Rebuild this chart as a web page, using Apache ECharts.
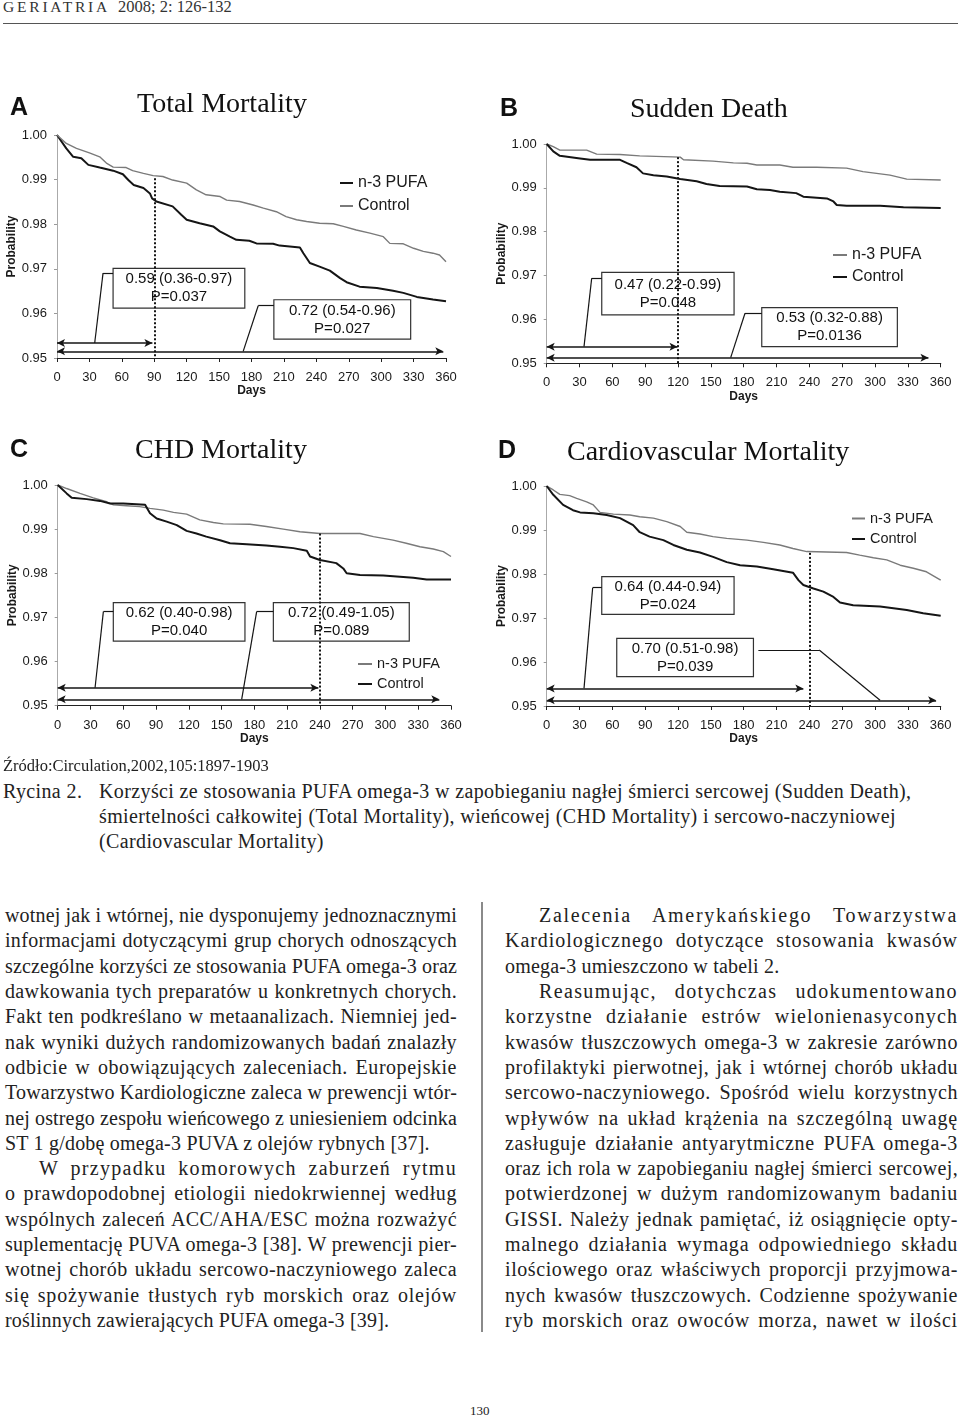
<!DOCTYPE html>
<html><head><meta charset="utf-8">
<script src="https://cdn.jsdelivr.net/npm/echarts@6/dist/echarts.min.js"></script>
<style>
html,body{margin:0;padding:0;background:#fff;}
body{width:960px;height:1418px;position:relative;overflow:hidden;font-family:"Liberation Serif",serif;color:#222;}
#chart{position:absolute;left:0;top:0;width:960px;height:760px;}
.abs{position:absolute;white-space:nowrap;}
.col{position:absolute;top:903.2px;font-size:20px;line-height:25.3px;}
.col div{white-space:nowrap;height:25.3px;letter-spacing:0.2px;}
.col div.ind{padding-left:34px;}
.cap{font-size:20px;line-height:25px;letter-spacing:0.38px;}
</style></head>
<body>
<div class="abs" style="left:3px;top:-1px;font-size:15.5px;letter-spacing:2.8px;line-height:16px;color:#333">GERIATRIA</div>
<div class="abs" style="left:118px;top:-1px;font-size:16.5px;line-height:16px;color:#333">2008; 2: 126-132</div>
<div class="abs" style="left:3px;top:22.5px;width:955px;height:1.5px;background:#555"></div>
<div id="chart"></div>
<div class="abs" style="left:3px;top:756px;font-size:16.5px;line-height:20px;">Źródło:Circulation,2002,105:1897-1903</div>
<div class="abs cap" style="left:3px;top:779.4px">Rycina 2.</div>
<div class="abs cap" style="left:99px;top:779.4px">Korzyści ze stosowania PUFA omega-3 w zapobieganiu nagłej śmierci sercowej (Sudden Death),<br>śmiertelności całkowitej (Total Mortality), wieńcowej (CHD Mortality) i sercowo-naczyniowej<br>(Cardiovascular Mortality)</div>

<div class="col" id="colL" style="left:5px;width:452px">
<div class="j"><span>wotnej jak i wtórnej, nie dysponujemy jednoznacznymi</span></div>
<div class="j"><span>informacjami dotyczącymi grup chorych odnoszących</span></div>
<div class="j"><span>szczególne korzyści ze stosowania PUFA omega-3 oraz</span></div>
<div class="j"><span>dawkowania tych preparatów u konkretnych chorych.</span></div>
<div class="j"><span>Fakt ten podkreślano w metaanalizach. Niemniej jed-</span></div>
<div class="j"><span>nak wyniki dużych randomizowanych badań znalazły</span></div>
<div class="j"><span>odbicie w obowiązujących zaleceniach. Europejskie</span></div>
<div class="j"><span>Towarzystwo Kardiologiczne zaleca w prewencji wtór-</span></div>
<div class="j"><span>nej ostrego zespołu wieńcowego z uniesieniem odcinka</span></div>
<div><span>ST 1 g/dobę omega-3 PUVA z olejów rybnych [37].</span></div>
<div class="j ind"><span>W przypadku komorowych zaburzeń rytmu</span></div>
<div class="j"><span>o prawdopodobnej etiologii niedokrwiennej według</span></div>
<div class="j"><span>wspólnych zaleceń ACC/AHA/ESC można rozważyć</span></div>
<div class="j"><span>suplementację PUVA omega-3 [38]. W prewencji pier-</span></div>
<div class="j"><span>wotnej chorób układu sercowo-naczyniowego zaleca</span></div>
<div class="j"><span>się spożywanie tłustych ryb morskich oraz olejów</span></div>
<div><span>roślinnych zawierających PUFA omega-3 [39].</span></div>
</div>

<div class="abs" style="left:481px;top:902px;width:2px;height:430px;background:#8a8a8a"></div>

<div class="col" id="colR" style="left:505px;width:453px">
<div class="j ind"><span>Zalecenia Amerykańskiego Towarzystwa</span></div>
<div class="j"><span>Kardiologicznego dotyczące stosowania kwasów</span></div>
<div><span>omega-3 umieszczono w tabeli 2.</span></div>
<div class="j ind"><span>Reasumując, dotychczas udokumentowano</span></div>
<div class="j"><span>korzystne działanie estrów wielonienasyconych</span></div>
<div class="j"><span>kwasów tłuszczowych omega-3 w zakresie zarówno</span></div>
<div class="j"><span>profilaktyki pierwotnej, jak i wtórnej chorób układu</span></div>
<div class="j"><span>sercowo-naczyniowego. Spośród wielu korzystnych</span></div>
<div class="j"><span>wpływów na układ krążenia na szczególną uwagę</span></div>
<div class="j"><span>zasługuje działanie antyarytmiczne PUFA omega-3</span></div>
<div class="j"><span>oraz ich rola w zapobieganiu nagłej śmierci sercowej,</span></div>
<div class="j"><span>potwierdzonej w dużym randomizowanym badaniu</span></div>
<div class="j"><span>GISSI. Należy jednak pamiętać, iż osiągnięcie opty-</span></div>
<div class="j"><span>malnego działania wymaga odpowiedniego składu</span></div>
<div class="j"><span>ilościowego oraz właściwych proporcji przyjmowa-</span></div>
<div class="j"><span>nych kwasów tłuszczowych. Codzienne spożywanie</span></div>
<div class="j"><span>ryb morskich oraz owoców morza, nawet w ilości</span></div>
</div>

<div class="abs" style="left:470px;top:1403px;font-size:13px;line-height:16px;">130</div>

<script>
// ---------------- DATA ----------------
const xTicks = [0,30,60,90,120,150,180,210,240,270,300,330,360];
const yTicks = [0.95,0.96,0.97,0.98,0.99,1.00];

// Panel A - Total Mortality
const daysA_n3 = [0,8.6,15,22.5,29,39.5,52,61,66,71,80,86,88,92,107,115,120,132,144.5,150.7,160,166,178,184.6,200,206,224.8,228,234,243,252.5,262,268,280,296,311,320.5,333,348,360];
const probA_n3 = [1.000,0.9970,0.9951,0.9948,0.9933,0.9927,0.9920,0.9912,0.9899,0.9888,0.9881,0.9869,0.9858,0.9851,0.9840,0.9821,0.9810,0.9802,0.9795,0.9784,0.9772,0.9765,0.9763,0.9757,0.9756,0.9752,0.9748,0.9735,0.9713,0.9705,0.9696,0.9679,0.9670,0.9660,0.9657,0.9651,0.9646,0.9637,0.9631,0.9627];
const daysA_ctl = [0,8.6,18,30,39.5,45.7,52,64,70,80,89,98,107,120,129,138,151,157,169,181.5,191,203,212,221.7,231,243,255.6,265,277,289.6,302,308,320.5,330,339,348,354,360];
const probA_ctl = [1.000,0.9981,0.9970,0.9960,0.9951,0.9937,0.9928,0.9927,0.9920,0.9914,0.9909,0.9907,0.9899,0.9892,0.9877,0.9866,0.9862,0.9854,0.9851,0.9843,0.9836,0.9828,0.9817,0.9810,0.9806,0.9802,0.9801,0.9795,0.9787,0.9780,0.9772,0.9757,0.9756,0.9746,0.9739,0.9735,0.9731,0.9716];

// Panel B - Sudden Death
const daysB_n3 = [0,6,12,36.5,45.7,67,85,122,125,152,170.6,183,192,213,225,246.7,274,289,313.7,329,360];
const probB_n3 = [1.000,0.9994,0.9986,0.9986,0.9977,0.9976,0.9973,0.9970,0.9964,0.9961,0.9957,0.9956,0.9952,0.9952,0.9947,0.9947,0.9945,0.9937,0.9929,0.9920,0.9918];
const daysB_ctl = [0,6,12,30.5,39.6,67,73,82,88,97.5,109.7,122,137,146,158,183,192,204,213,228,234.5,256,262,265,274,304.6,326,360];
const probB_ctl = [1.000,0.9983,0.9973,0.9967,0.9964,0.9964,0.9957,0.9947,0.9933,0.9929,0.9926,0.9920,0.9915,0.9909,0.9904,0.9903,0.9897,0.9895,0.9891,0.9888,0.9880,0.9876,0.9869,0.9861,0.9859,0.9859,0.9856,0.9854];

// Panel C - CHD Mortality
const daysC_n3 = [0,8.2,20.4,32.6,44.8,51,63,75,84.5,96.7,106,118,130,142.5,151.6,176,191,206.5,221.8,240,276.7,289,307,319,331.6,343.8,353,360];
const probC_n3 = [1.000,0.9992,0.9981,0.9971,0.9962,0.9955,0.9953,0.9951,0.9947,0.9943,0.9938,0.9934,0.9921,0.9915,0.9912,0.9911,0.9906,0.9900,0.9894,0.9890,0.9890,0.9883,0.9875,0.9868,0.9860,0.9855,0.9849,0.9838];
const daysC_ctl = [0,8.2,12.8,26.5,38.7,48,60,80,84.5,90.6,99.8,109,118,127,136,148.6,157.7,173,191,203.5,215.7,228,231,240,255,261.4,264.5,276.7,298,325.5,337.7,360];
const probC_ctl = [1.000,0.9981,0.9971,0.9968,0.9964,0.9958,0.9958,0.9955,0.9936,0.9924,0.9917,0.9909,0.9896,0.9890,0.9883,0.9875,0.9868,0.9866,0.9863,0.9860,0.9857,0.9851,0.9838,0.9830,0.9823,0.9811,0.9800,0.9796,0.9795,0.9790,0.9786,0.9786];

// Panel D - Cardiovascular Mortality
const daysD_n3 = [0,6,12,21,27.4,36.5,42.6,48.7,61,76,85,97.5,109.7,122,128,140,152,164.5,183,198,213,225,237.6,274,286,298.5,310.7,323,335,347,360];
const probD_n3 = [1.000,0.9991,0.9981,0.9978,0.9972,0.9964,0.9957,0.9940,0.9936,0.9934,0.9930,0.9927,0.9919,0.9908,0.9895,0.9891,0.9885,0.9881,0.9877,0.9872,0.9866,0.9858,0.9851,0.9849,0.9843,0.9837,0.9832,0.9820,0.9813,0.9805,0.9786];
const daysD_ctl = [0,6,15,24,30.5,42.6,54.8,67,79,85,94,106.6,115.7,128,140,152,164.5,176.7,192,207,225,230,234.5,243.7,252.8,262,268,280,304.6,329,344,360];
const probD_ctl = [1.000,0.9980,0.9957,0.9945,0.9940,0.9938,0.9934,0.9927,0.9911,0.9895,0.9885,0.9877,0.9866,0.9855,0.9849,0.9839,0.9827,0.9820,0.9817,0.9811,0.9803,0.9786,0.9775,0.9767,0.9760,0.9748,0.9735,0.9729,0.9726,0.9718,0.9711,0.9705];

const panelTitles = ['Total Mortality','Sudden Death','CHD Mortality','Cardiovascular Mortality'];
const panelLetters = ['A','B','C','D'];
const seriesNames = ['n-3 PUFA','Control'];

// hazard-ratio annotations (text)
const hrTexts = [
  [['0.59 (0.36-0.97)','P=0.037'],['0.72 (0.54-0.96)','P=0.027']],
  [['0.47 (0.22-0.99)','P=0.048'],['0.53 (0.32-0.88)','P=0.0136']],
  [['0.62 (0.40-0.98)','P=0.040'],['0.72 (0.49-1.05)','P=0.089']],
  [['0.64 (0.44-0.94)','P=0.024'],['0.70 (0.51-0.98)','P=0.039']]
];
// annotation geometry in data units (day, probability)
const annot = [
  {cut:90, cutTop:0.9903, shortEnd:88.3, shortY:0.95336, longEnd:357.5, longY:0.95149,
   boxes:[[51.9,173.8,0.9612,0.9701],[200.7,327.3,0.95425,0.96306]],
   leaders:[[[51.9,0.96903],[42.6,0.96903],[34.9,0.95336]],[[200.7,0.96172],[186.2,0.96172],[172.3,0.95149]]]},
  {cut:120, cutTop:0.9970, shortEnd:119.5, shortY:0.9538, longEnd:348.8, longY:0.95129,
   boxes:[[50.3,171.2,0.96102,0.97074],[196.5,320.4,0.9538,0.96269]],
   leaders:[[[50.3,0.96938],[41.1,0.96938],[34.1,0.9538]],[[196.5,0.9614],[181.2,0.9614],[168.1,0.95129]]]},
  {cut:240, cutTop:0.9890, shortEnd:238.6, shortY:0.95408, longEnd:349.3, longY:0.95144,
   boxes:[[50.9,171.4,0.96465,0.97334],[197.4,321.8,0.96465,0.97334]],
   leaders:[[[50.9,0.9713],[41.8,0.9713],[34.2,0.95408]],[[197.4,0.9713],[182.1,0.9713],[168.4,0.95144]]]},
  {cut:240, cutTop:0.9848, shortEnd:234.5, shortY:0.9540, longEnd:355.8, longY:0.95129,
   boxes:[[50.3,171.2,0.97083,0.97939],[64,188.9,0.95667,0.96538]],
   leaders:[[[50.3,0.97689],[42,0.97689],[34.1,0.9540]],[[193.4,0.96273],[249,0.96273],[304.6,0.95129]]]}
];

// ---------------- CHART ----------------
const panels = [
  {n3:[daysA_n3,probA_n3], ctl:[daysA_ctl,probA_ctl], n3Dark:true},
  {n3:[daysB_n3,probB_n3], ctl:[daysB_ctl,probB_ctl], n3Dark:false},
  {n3:[daysC_n3,probC_n3], ctl:[daysC_ctl,probC_ctl], n3Dark:false},
  {n3:[daysD_n3,probD_n3], ctl:[daysD_ctl,probD_ctl], n3Dark:false}
];
const zip = (a,b)=>a.map((v,i)=>[v,b[i]]);
const DARK='#151515', GRAY='#7a7a7a';
const SANS='Liberation Sans';

const gridPos = [
  {left:57, top:135, width:389, height:223},
  {left:546.7, top:144, width:394, height:219.3},
  {left:57.7, top:485, width:393.3, height:220.7},
  {left:546.7, top:486, width:394, height:220}
];
const titlePos = [[137,91],[630,96],[135,436.5],[567,438.5]];
const letterPos = [[10,95.5],[500,96.5],[10,438],[498,438.5]];
const legendPos = [
  {left:340, top:175, gap:7, fs:16, w:13},
  {left:833, top:247, gap:6, fs:16, w:14},
  {left:358, top:656.5, gap:5, fs:14.5, w:14},
  {left:852, top:511, gap:5.5, fs:14.5, w:13}
];

const option = {
  animation:false,
  textStyle:{fontFamily:SANS},
  title:[], grid:[], xAxis:[], yAxis:[], legend:[], series:[]
};

panels.forEach((p,i)=>{
  option.grid.push(Object.assign({outerBoundsMode:'none', containLabel:false}, gridPos[i]));
  option.title.push({text:panelTitles[i], left:titlePos[i][0], top:titlePos[i][1], padding:0,
    textStyle:{fontFamily:'Liberation Serif', fontSize:28, fontWeight:'normal', color:'#111'}});
  option.title.push({text:panelLetters[i], left:letterPos[i][0], top:letterPos[i][1], padding:0,
    textStyle:{fontFamily:SANS, fontSize:25, fontWeight:'bold', color:'#111'}});
  option.xAxis.push({type:'value', gridIndex:i, min:0, max:360, interval:30,
    name:'Days', nameLocation:'middle', nameGap:25,
    nameTextStyle:{fontFamily:SANS, fontSize:12, fontWeight:'bold', color:'#1a1a1a'},
    axisLine:{show:true, lineStyle:{color:'#222', width:1.2}},
    axisTick:{show:true, length:4, lineStyle:{color:'#222'}},
    axisLabel:{margin:13, fontSize:13, fontFamily:SANS, color:'#1a1a1a'},
    splitLine:{show:false}});
  option.yAxis.push({type:'value', gridIndex:i, min:0.95, max:1, interval:0.01,
    name:'Probability', nameLocation:'middle', nameGap:38,
    nameTextStyle:{fontFamily:SANS, fontSize:12, fontWeight:'bold', color:'#1a1a1a'},
    axisLine:{show:true, lineStyle:{color:'#aaa', width:1}},
    axisTick:{show:true, length:3, lineStyle:{color:'#999'}},
    axisLabel:{margin:10, fontSize:13, fontFamily:SANS, color:'#1a1a1a', formatter:v=>v.toFixed(2)},
    splitLine:{show:false}});
  const n3Col = p.n3Dark ? DARK : GRAY, ctlCol = p.n3Dark ? GRAY : DARK;
  const lp = legendPos[i];
  option.legend.push({orient:'vertical', left:lp.left, top:lp.top, itemGap:lp.gap, padding:0,
    icon:'rect', itemWidth:lp.w, itemHeight:2,
    textStyle:{fontFamily:SANS, fontSize:lp.fs, color:'#1a1a1a'},
    selectedMode:false,
    data:[{name:seriesNames[0], itemStyle:{color:n3Col}}, {name:seriesNames[1], itemStyle:{color:ctlCol}}]});

  const a = annot[i];
  const ls = (w,t)=>({color:DARK, width:w, type:t||'solid'});
  const mlData = [];
  const segm = (p1,p2,s1,s2,style)=>[{coord:p1, symbol:s1, lineStyle:style},{coord:p2, symbol:s2, lineStyle:style}];
  mlData.push(segm([a.cut,a.cutTop],[a.cut,0.95],'none','none',{color:DARK,width:2,type:[2,2]}));
  mlData.push(segm([0,a.shortY],[a.shortEnd,a.shortY],'arrow','arrow',ls(1.5)));
  mlData.push(segm([0,a.longY],[a.longEnd,a.longY],'arrow','arrow',ls(1.5)));
  a.leaders.forEach(L=>{
    for(let k=0;k<L.length-1;k++) mlData.push(segm(L[k],L[k+1],'none','none',ls(1.2)));
  });
  const maData = a.boxes.map((b,k)=>[{coord:[b[0],b[3]], name:hrTexts[i][k].join('\n')},{coord:[b[1],b[2]]}]);

  const dark = {type:'line', xAxisIndex:i, yAxisIndex:i, symbol:'none', showSymbol:false, silent:true,
     lineStyle:{width:2, color:DARK}, itemStyle:{color:DARK}, z:3};
  const gray = {type:'line', xAxisIndex:i, yAxisIndex:i, symbol:'none', showSymbol:false, silent:true,
     lineStyle:{width:1.4, color:GRAY}, itemStyle:{color:GRAY}, z:3};
  const s1 = Object.assign({}, p.n3Dark?dark:gray, {name:seriesNames[0], data:zip(p.n3[0],p.n3[1])});
  const s2 = Object.assign({}, p.n3Dark?gray:dark, {name:seriesNames[1], data:zip(p.ctl[0],p.ctl[1])});
  s2.markLine = {silent:true, symbolSize:[6,8], label:{show:false}, data:mlData, animation:false};
  s2.markArea = {silent:true, itemStyle:{color:'rgba(255,255,255,0)', borderColor:'#333', borderWidth:1.2},
    label:{show:true, position:'inside', fontFamily:SANS, fontSize:15, lineHeight:18, color:'#111', formatter:q=>q.name},
    data:maData};
  option.series.push(s1, s2);
});

const chart = echarts.init(document.getElementById('chart'), null, {renderer:'canvas'});
chart.setOption(option);

// ---------------- text justification ----------------
function justify(){
  document.querySelectorAll('.col').forEach(col=>{
    const W = col.clientWidth;
    col.querySelectorAll('div.j').forEach(d=>{
      const s = d.firstElementChild;
      s.style.letterSpacing=''; s.style.wordSpacing='';
      const indent = d.classList.contains('ind') ? 34 : 0;
      const target = W - indent;
      const txt = s.textContent, n = txt.length, ns = (txt.match(/ /g)||[]).length;
      let w = s.getBoundingClientRect().width;
      const extra = target - w;
      if (extra > 0 && ns > 0){
        s.style.letterSpacing = (0.2 + 0.65*extra/n) + 'px';
        w = s.getBoundingClientRect().width;
        s.style.wordSpacing = ((target - w)/ns) + 'px';
      } else {
        s.style.letterSpacing = (0.2 + extra/n) + 'px';
      }
    });
  });
}
justify();
if (document.fonts && document.fonts.ready) document.fonts.ready.then(justify);
</script>
</body></html>
